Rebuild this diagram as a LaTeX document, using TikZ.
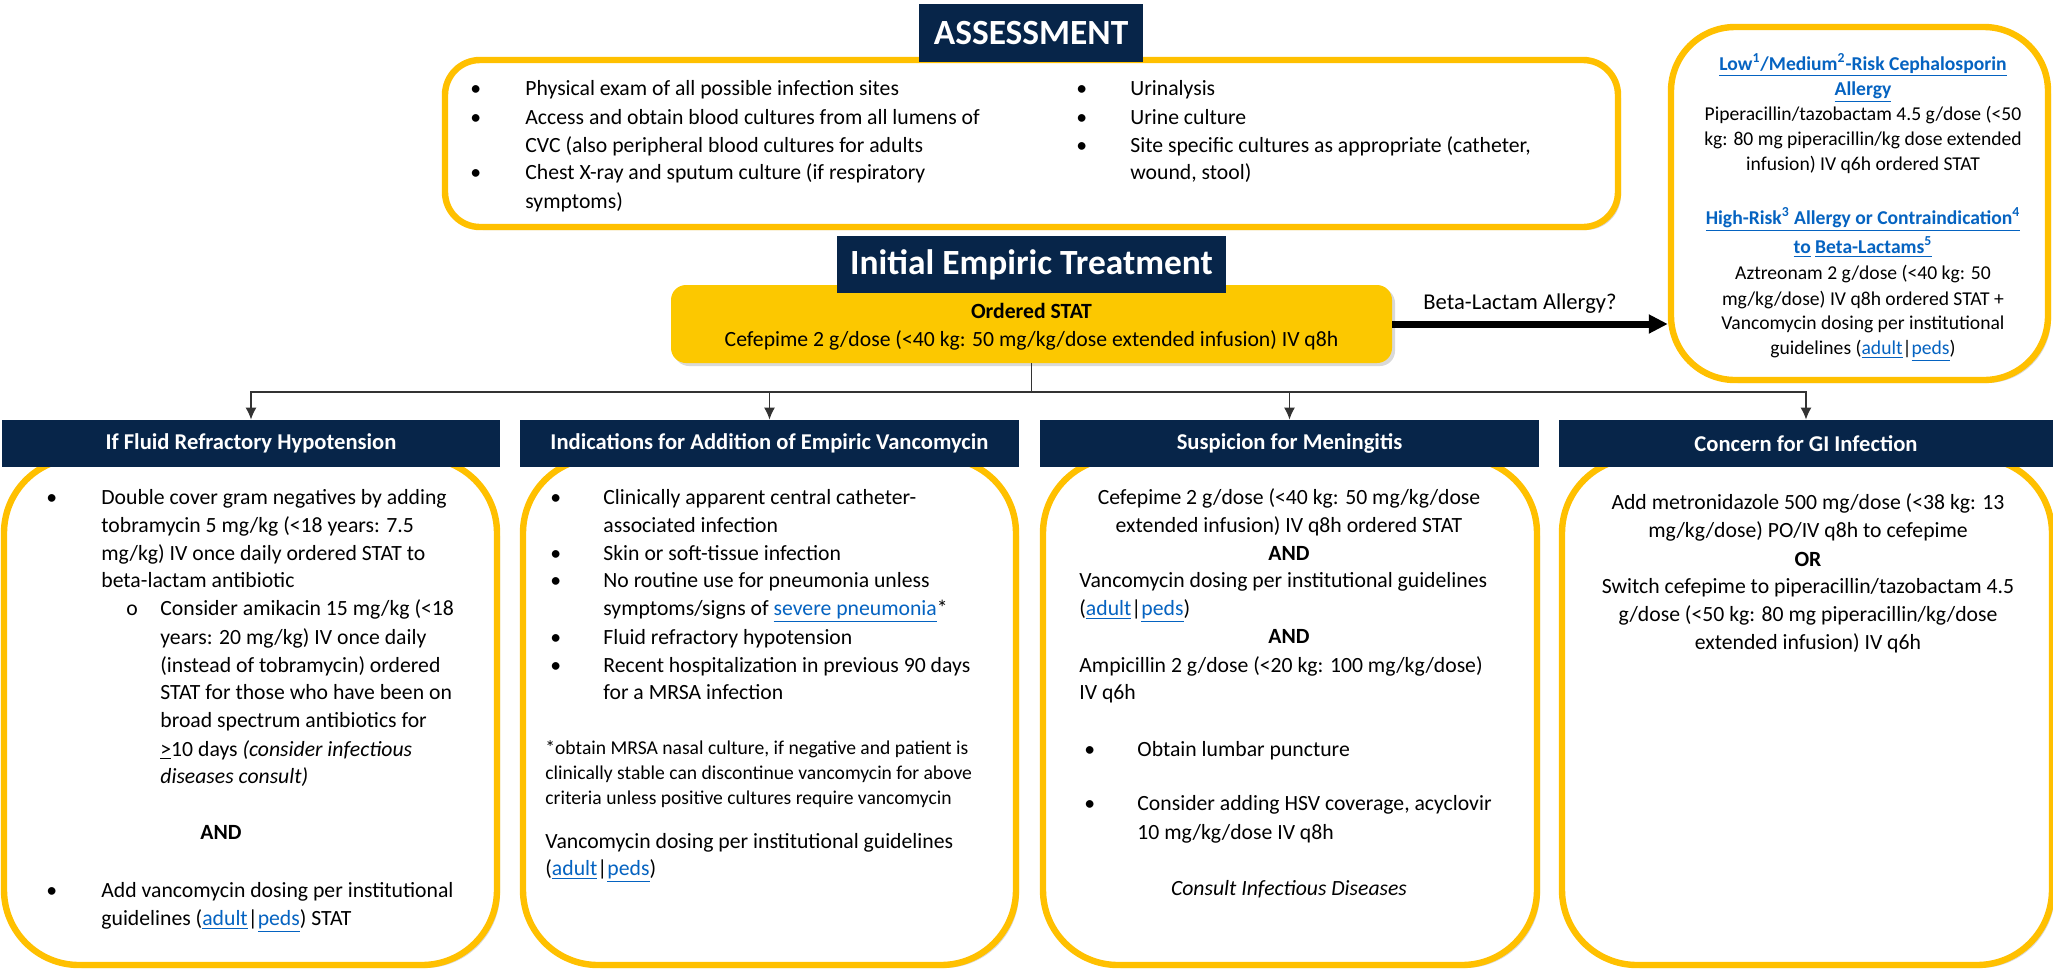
\documentclass[tikz,border=0pt]{standalone}
\usepackage{fontspec}
\setmainfont{Carlito}
\usetikzlibrary{shadows,arrows.meta}
\definecolor{navy}{HTML}{072549}
\definecolor{gold}{HTML}{FFC000}
\definecolor{boxyellow}{HTML}{FCC800}
\definecolor{linkblue}{HTML}{0563C1}
\definecolor{connline}{HTML}{333333}
\newcommand\fbody{\fontsize{10.85}{13}\selectfont}
\newcommand\fsmall{\fontsize{9.8}{12}\selectfont}
\newcommand\lk[1]{\textcolor{linkblue}{\underline{#1}}}
\newcommand\lkb[1]{\textcolor{linkblue}{\bfseries\underline{#1}}}
\newcounter{tl}
\newcommand\tline[4][txt]{\stepcounter{tl}\node[#1] (t\arabic{tl}) at (#2,#3) {#4};}
\begin{document}
\begin{tikzpicture}[x=0.5pt,y=-0.5pt,
  txt/.style={anchor=base west, inner sep=0pt, yshift=-3pt, font=\fbody},
  ctxt/.style={txt, anchor=base},
  stxt/.style={txt, font=\fsmall},
  sctxt/.style={ctxt, font=\fsmall},
  title/.style={fill=navy, text=white, inner sep=0pt, font=\bfseries\fontsize{17.7}{20}\selectfont},
  hdr/.style={fill=navy, text=white, inner sep=0pt, minimum height=23.5pt, font=\bfseries\fontsize{11.3}{13}\selectfont},
  shad/.style={drop shadow={opacity=0.3, shadow xshift=1.5pt, shadow yshift=-1.5pt}},
  ybox/.style={draw=gold, line width=3.2pt, fill=white, shad, inner sep=0pt},
  conn/.style={draw=connline, line width=0.7pt},
  connarrow/.style={conn, -{Latex[length=6pt,width=5.5pt]}},
  bigarrow/.style={draw=black, line width=3.5pt, -{Triangle[length=9.5pt,width=9pt]}}
]
\useasboundingbox (0,0) rectangle (2053,971);

% ---------- Assessment ----------
\node[ybox, rounded corners=17.5pt, minimum width=586.5pt, minimum height=83.5pt] (assess) at (1031.5,143.5) {};
\node[title, minimum width=112pt, minimum height=29pt] (assessT) at (1031,33) {ASSESSMENT};
\tline{470}{89}{•}\tline{525}{89}{Physical exam of all possible infection sites}
\tline{470}{118}{•}\tline{525}{118}{Access and obtain blood cultures from all lumens of}
\tline{525}{146}{CVC (also peripheral blood cultures for adults}
\tline{470}{173}{•}\tline{525}{173}{Chest X-ray and sputum culture (if respiratory}
\tline{525}{202}{symptoms)}
\tline{1076}{89}{•}\tline{1130}{89}{Urinalysis}
\tline{1076}{118}{•}\tline{1130}{118}{Urine culture}
\tline{1076}{146}{•}\tline{1130}{146}{Site specific cultures as appropriate (catheter,}
\tline{1130}{173}{wound, stool)}

% ---------- Initial empiric treatment ----------
\node[fill=boxyellow, rounded corners=7.5pt, shad, minimum width=360.5pt, minimum height=39pt, inner sep=0pt] (ordered) at (1031.5,324) {};
\node[title, minimum width=194.5pt, minimum height=28.5pt] (initT) at (1031.5,264.5) {Initial Empiric Treatment};
\tline[ctxt]{1031.5}{312}{\bfseries Ordered STAT}
\tline[ctxt]{1031.5}{340}{Cefepime 2 g/dose (<40 kg: 50 mg/kg/dose extended infusion) IV q8h}

% ---------- Allergy box ----------
\node[ybox, rounded corners=32pt, minimum width=188.5pt, minimum height=176.5pt] (allergy) at (1859.5,203.5) {};
\draw[bigarrow] (ordered.east) -- (ordered.east -| allergy.west);
\node[inner sep=0pt, font=\fontsize{11.3}{13}\selectfont] (q) at (1520,304) {Beta-Lactam Allergy?};
\tline[sctxt]{1863}{64}{\lkb{Low\textsuperscript{1}/Medium\textsuperscript{2}-Risk Cephalosporin}}
\tline[sctxt]{1863}{89}{\lkb{Allergy}}
\tline[sctxt]{1863}{114}{Piperacillin/tazobactam 4.5 g/dose (<50}
\tline[sctxt]{1863}{139}{kg: 80 mg piperacillin/kg dose extended}
\tline[sctxt]{1863}{164}{infusion) IV q6h ordered STAT}
\tline[sctxt]{1863}{218}{\lkb{High-Risk\textsuperscript{3} Allergy or Contraindication\textsuperscript{4}}}
\tline[sctxt]{1863}{247}{\lkb{to} \lkb{Beta-Lactams\textsuperscript{5}}}
\tline[sctxt]{1863}{273}{Aztreonam 2 g/dose (<40 kg: 50}
\tline[sctxt]{1863}{299}{mg/kg/dose) IV q8h ordered STAT +}
\tline[sctxt]{1863}{323}{Vancomycin dosing per institutional}
\tline[sctxt]{1863}{348}{guidelines (\lk{adult}|\lk{peds})}

% ---------- Bottom boxes ----------
\node[ybox, rounded corners=37.5pt, minimum width=246.5pt, minimum height=253.5pt] (b1) at (250.5,711.5) {};
\node[ybox, rounded corners=37.5pt, minimum width=246.5pt, minimum height=253.5pt] (b2) at (769.5,711.5) {};
\node[ybox, rounded corners=37.5pt, minimum width=247pt, minimum height=253.5pt] (b3) at (1290,711.5) {};
\node[ybox, rounded corners=37.5pt, minimum width=245pt, minimum height=253.5pt] (b4) at (1807,711.5) {};

\node[hdr, minimum width=249pt] (h1) at (251,443.5) {If Fluid Refractory Hypotension};
\node[hdr, minimum width=249.5pt] (h2) at (769.5,443.5) {Indications for Addition of Empiric Vancomycin};
\node[hdr, minimum width=249.5pt] (h3) at (1289.5,443.5) {Suspicion for Meningitis};
\node[hdr, minimum width=247pt] (h4) at (1806,443.5) {Concern for GI Infection};

% ---------- Connectors ----------
\coordinate (split) at (1031.5,392);
\draw[conn] (ordered.south) -- (split);
\draw[connarrow] (split) -| (h1.north);
\draw[connarrow] (split) -| (h2.north);
\draw[connarrow] (split) -| (h3.north);
\draw[connarrow] (split) -| (h4.north);

% ---------- Box 1 ----------
\tline{46}{498}{•}\tline{101}{498}{Double cover gram negatives by adding}
\tline{101}{526}{tobramycin 5 mg/kg (<18 years: 7.5}
\tline{101}{554}{mg/kg) IV once daily ordered STAT to}
\tline{101}{581}{beta-lactam antibiotic}
\tline{126}{609}{o}\tline{160}{609}{Consider amikacin 15 mg/kg (<18}
\tline{160}{638}{years: 20 mg/kg) IV once daily}
\tline{160}{666}{(instead of tobramycin) ordered}
\tline{160}{693}{STAT for those who have been on}
\tline{160}{721}{broad spectrum antibiotics for}
\tline{160}{750}{\underline{>}10 days \textit{(consider infectious}}
\tline{160}{777}{\textit{diseases consult)}}
\tline[ctxt]{221}{833}{\bfseries AND}
\tline{46}{891}{•}\tline{101}{891}{Add vancomycin dosing per institutional}
\tline{101}{919}{guidelines (\lk{adult}|\lk{peds}) STAT}

% ---------- Box 2 ----------
\tline{550}{498}{•}\tline{603}{498}{Clinically apparent central catheter-}
\tline{603}{526}{associated infection}
\tline{550}{554}{•}\tline{603}{554}{Skin or soft-tissue infection}
\tline{550}{581}{•}\tline{603}{581}{No routine use for pneumonia unless}
\tline{603}{609}{symptoms/signs of \lk{severe pneumonia}*}
\tline{550}{638}{•}\tline{603}{638}{Fluid refractory hypotension}
\tline{550}{666}{•}\tline{603}{666}{Recent hospitalization in previous 90 days}
\tline{603}{693}{for a MRSA infection}
\tline[stxt]{545}{748}{*obtain MRSA nasal culture, if negative and patient is}
\tline[stxt]{545}{773}{clinically stable can discontinue vancomycin for above}
\tline[stxt]{545}{798}{criteria unless positive cultures require vancomycin}
\tline{545}{842}{Vancomycin dosing per institutional guidelines}
\tline{545}{869}{(\lk{adult}|\lk{peds})}

% ---------- Box 3 ----------
\tline[ctxt]{1289}{498}{Cefepime 2 g/dose (<40 kg: 50 mg/kg/dose}
\tline[ctxt]{1289}{526}{extended infusion) IV q8h ordered STAT}
\tline[ctxt]{1289}{554}{\bfseries AND}
\tline{1079}{581}{Vancomycin dosing per institutional guidelines}
\tline{1079}{609}{(\lk{adult}|\lk{peds})}
\tline[ctxt]{1289}{637}{\bfseries AND}
\tline{1079}{666}{Ampicillin 2 g/dose (<20 kg: 100 mg/kg/dose)}
\tline{1079}{693}{IV q6h}
\tline{1084}{750}{•}\tline{1137}{750}{Obtain lumbar puncture}
\tline{1084}{804}{•}\tline{1137}{804}{Consider adding HSV coverage, acyclovir}
\tline{1137}{833}{10 mg/kg/dose IV q8h}
\tline[ctxt]{1289}{889}{\itshape Consult Infectious Diseases}

% ---------- Box 4 ----------
\tline[ctxt]{1808}{503}{Add metronidazole 500 mg/dose (<38 kg: 13}
\tline[ctxt]{1808}{531}{mg/kg/dose) PO/IV q8h to cefepime}
\tline[ctxt]{1808}{560}{\bfseries OR}
\tline[ctxt]{1808}{587}{Switch cefepime to piperacillin/tazobactam 4.5}
\tline[ctxt]{1808}{615}{g/dose (<50 kg: 80 mg piperacillin/kg/dose}
\tline[ctxt]{1808}{643}{extended infusion) IV q6h}
\end{tikzpicture}
\end{document}
